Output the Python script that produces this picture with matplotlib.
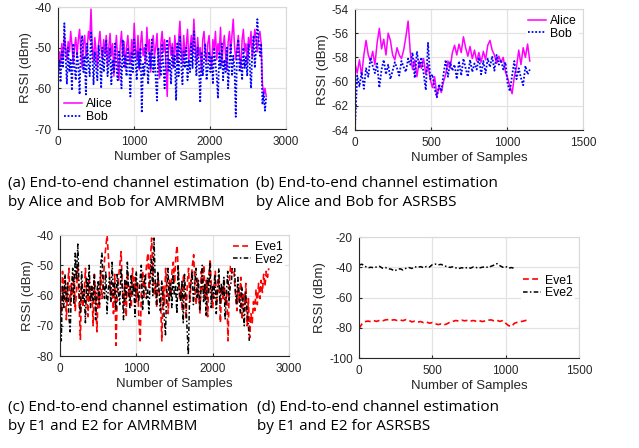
import numpy as np
import matplotlib
matplotlib.use('Agg')
import matplotlib.pyplot as plt

# ---- data (values in dBm, downsampled by eye) ----
alice_a = [-56.5, -51, -54, -49, -52.5, -47, -50, -53, -48.5, -51, -46, -49.5, -54, -50, -47.5,
           -52, -48, -45.5, -51, -55, -49, -47, -52.5, -50, -46, -48, -40.5, -50, -53.5, -47.5,
           -51, -55, -49, -46, -50.5, -53, -48, -51.5, -47, -54.5, -50, -46.5, -52, -49, -57,
           -51, -47, -53, -58, -49.5, -46, -52, -48.5, -55, -50, -47, -51.5, -54, -48, -52,
           -44, -50.5, -53, -47, -55.5, -49, -46, -52, -50, -54, -45, -51, -48, -56, -49.5,
           -47, -52, -50, -46.5, -53.5, -57.5, -49, -46, -51, -48, -54, -62, -50, -47.5, -52,
           -49, -55, -47, -51, -53.5, -48, -43.5, -50, -54, -47, -52, -49.5, -45.5, -53, -50,
           -47, -51.5, -43, -49, -54, -47.5, -52, -50, -56, -48, -46, -51, -53.5, -49, -47,
           -52.5, -55, -48, -50.5, -46, -53, -49, -51, -45, -54, -50, -47, -52, -55.5, -48.5,
           -46, -51, -47, -43, -49.5, -53, -50, -47, -52, -55, -48, -45.5, -51, -49, -54,
           -47.5, -50, -46, -52.5, -49, -45.5, -48, -51, -47, -46, -49, -59, -61, -60, -62]
bob_a = [-57, -53, -58.5, -51, -55, -44, -52, -59, -50, -56, -53, -60.5, -49, -55, -58,
         -51, -54, -61.5, -50, -47, -56, -52, -61.5, -49, -54, -57, -46, -52, -59, -51,
         -55, -58, -49.5, -53, -60, -50, -56, -52, -48, -57, -54, -50, -59, -53, -56,
         -49, -55, -58, -51, -53, -60, -48, -55, -52, -57, -50, -54, -62, -51, -56,
         -48, -53, -58, -51, -55, -50, -66, -54, -57, -49, -53, -59, -51, -55, -48,
         -56, -52, -58, -63, -50, -54, -57, -49, -55, -60, -52, -48, -56, -53, -59,
         -50, -55, -52, -63, -49, -57, -47, -54, -59, -51, -55, -50, -58, -53, -56,
         -49, -55, -46, -52, -57, -50, -54, -63.5, -51, -57, -53, -49, -58, -55, -51,
         -56, -52, -59, -50, -54, -57, -62.5, -51, -55, -49, -58, -53, -56, -50, -60,
         -54, -49, -57, -52, -55, -67, -51, -48, -56, -53, -58, -50, -55, -52, -57,
         -49, -54, -60, -51, -47, -55, -50, -43, -48, -52, -49, -64, -61, -65.5, -62]

alice_b = [-58.5, -59.3, -58.2, -59.5, -57.8, -56.6, -57.8, -58.3, -57.5, -58.6,
           -56.8, -55.6, -57.3, -56.5, -57.8, -56.0, -56.6, -57.8, -58.2, -57.2,
           -57.8, -58.1, -57.4, -56.3, -55.0, -57.6, -59.0, -58.2, -59.6, -58.3,
           -58.9, -58.1, -59.4, -58.6, -59.8, -60.5, -59.6, -61.2, -60.4, -60.9,
           -60.0, -59.4, -58.3, -58.9, -57.6, -57.0, -57.8, -56.9, -57.6, -56.3,
           -57.2, -57.9, -57.1, -58.1, -57.4, -58.3, -57.6, -58.4, -57.5, -58.2,
           -57.0, -56.6, -57.4, -57.8, -58.5, -57.9, -58.4, -58.0, -59.2, -59.7,
           -60.4, -61.0, -59.6, -58.8, -57.4, -58.6, -57.2, -58.0, -56.9, -58.3]
bob_b = [-63.8, -59.5, -60.4, -59.2, -60.6, -58.9, -59.6, -58.0, -58.7, -59.3,
         -58.5, -60.5, -59.0, -58.2, -59.4, -58.6, -59.8, -59.1, -58.4, -58.9,
         -59.5, -58.3, -58.8, -59.2, -58.1, -58.6, -57.6, -59.7, -57.5, -58.9,
         -58.0, -59.3, -60.7, -56.8, -59.8, -59.4, -60.6, -61.3, -60.2, -60.8,
         -59.4, -58.2, -59.6, -58.4, -59.1, -58.6, -59.8, -58.3, -59.5, -58.1,
         -58.9, -59.6, -58.2, -59.2, -58.5, -59.0, -58.0, -59.4, -58.3, -59.3,
         -58.1, -58.8, -57.9, -59.1, -57.8, -58.6, -58.2, -59.0, -58.4, -60.2,
         -60.8, -59.5, -58.3, -59.8, -58.9, -59.7, -60.3, -58.7, -59.4, -59.0]

eve1_c = [-58, -66, -52, -61, -55, -68, -57, -51, -63, -56, -60, -53, -65, -58, -50,
          -62, -74.5, -56, -64, -59, -51, -60, -67, -55, -62, -57, -70, -53, -60, -72,
          -58, -64, -52, -61, -56, -48, -44, -40, -47, -55, -62, -58, -66, -53, -76.5,
          -60, -54, -50, -45.5, -58, -63, -55, -67, -52, -60, -57, -64, -51, -59, -54,
          -62, -56, -68, -75, -57, -52, -61, -55, -50, -46, -58, -48, -41, -52, -60,
          -56, -64, -53, -59, -62, -75, -57, -63, -51, -58, -66, -55, -60, -52, -49,
          -56, -47, -43.5, -54, -61, -58, -65, -53, -59, -68, -56, -51, -62, -55, -50,
          -46.5, -57, -63, -54, -60, -66, -52, -58, -50, -61, -55, -67, -53, -48, -59,
          -64, -56, -52, -62, -58, -54, -69, -57, -61, -55, -63, -59, -75, -56, -50,
          -53, -46, -55, -60, -65, -57, -62, -54, -68, -59, -63, -56, -70, -61, -74,
          -66, -69, -62, -65, -58, -63, -56, -61, -55, -59, -53, -57, -52, -54, -51]
eve2_c = [-60, -75, -57, -64, -53, -62, -56, -67, -72, -58, -51, -63, -46, -55, -43,
          -57, -66, -52, -61, -58, -69, -54, -60, -50, -64, -57, -62, -53, -68, -59,
          -55, -63, -50, -46, -57, -61, -52, -66, -58, -54, -62, -49, -60, -56, -65,
          -53, -59, -63, -51, -57, -68, -55, -61, -49, -58, -64, -53, -60, -56, -67,
          -52, -59, -62, -55, -50, -65, -57, -53, -61, -58, -66, -54, -48, -60, -41,
          -56, -63, -52, -59, -65, -55, -61, -67, -73, -58, -51, -62, -56, -64, -53,
          -60, -57, -66, -50, -59, -62, -55, -69, -53, -61, -71, -79.5, -60, -56, -52,
          -63, -57, -51, -61, -55, -65, -58, -50, -62, -56, -67, -54, -59, -49, -64,
          -57, -61, -53, -66, -58, -51, -63, -56, -60, -54, -68, -59, -52, -62, -57,
          -55, -48, -44, -58, -63, -54, -60, -66, -57, -62, -70, -59, -64, -68, -75]

eve1_d = [-80.5, -77.5, -76.0, -75.6, -75.9, -75.3, -75.8, -75.1, -75.5, -74.8,
          -74.6, -75.0, -74.7, -75.2, -74.9, -75.3, -74.6, -75.1, -76.1, -75.7,
          -76.3, -75.9, -76.6, -76.2, -77.0, -76.6, -77.4, -77.9, -77.5, -78.1,
          -77.4, -76.3, -75.8, -75.2, -75.6, -75.0, -75.4, -75.1, -75.6, -75.2,
          -75.8, -75.3, -75.9, -75.5, -75.0, -74.8, -75.4, -75.0, -75.8, -75.3,
          -77.0, -78.6, -79.2, -77.0, -76.4, -76.0, -75.6, -75.1, -74.7]
eve2_d = [-38.5, -38.0, -39.3, -40.4, -40.0, -40.3, -39.8, -39.4, -40.6, -40.2,
          -41.0, -41.3, -42.4, -41.6, -41.0, -41.8, -40.7, -40.2, -40.8, -39.7,
          -40.1, -39.6, -40.3, -39.5, -39.9, -38.3, -37.9, -38.4, -38.1, -39.0,
          -39.6, -40.1, -39.7, -40.4, -40.9, -40.3, -40.7, -40.1, -40.6, -39.8,
          -40.2, -40.5, -40.0, -39.7, -40.1, -39.4, -38.6, -37.6, -38.9, -40.0,
          -39.5, -40.6, -40.2, -40.8]

# last sample index of each trace
last_alice_a, last_bob_a = 2740, 2740
last_alice_b, last_bob_b = 1150, 1150
last_eve1_c, last_eve2_c = 2735, 2480
last_eve1_d, last_eve2_d = 1160, 1060

captions = ['(a) End-to-end channel estimation\nby Alice and Bob for AMRMBM',
            '(b) End-to-end channel estimation\nby Alice and Bob for ASRSBS',
            '(c) End-to-end channel estimation\nby E1 and E2 for AMRMBM',
            '(d) End-to-end channel estimation\nby E1 and E2 for ASRSBS']

plt.rcParams['font.family'] = ['Liberation Sans', 'DejaVu Sans']
plt.rcParams['axes.unicode_minus'] = False

W, H = 639, 448
fig = plt.figure(figsize=(W / 100, H / 100), dpi=100)

DOT = (0, (1, 1))
DASH = (0, (3.5, 2))
DASHDOT = (0, (3, 1.5, 1, 1.5))


def px_axes(x0, y0, x1, y1):
    return fig.add_axes([x0 / W, 1 - y1 / H, (x1 - x0) / W, (y1 - y0) / H])


def style(ax, xlim, ylim, xt, yt):
    ax.set_xlim(xlim)
    ax.set_ylim(ylim)
    ax.set_xticks(xt)
    ax.set_yticks(yt)
    ax.grid(True, color='#e3e3e3', lw=0.9)
    ax.set_axisbelow(True)
    for s in ['left', 'bottom']:
        ax.spines[s].set_color('#262626')
        ax.spines[s].set_linewidth(0.8)
    for s in ['top', 'right']:
        ax.spines[s].set_color('#d9d9d9')
        ax.spines[s].set_linewidth(0.8)
    ax.tick_params(direction='in', length=2, labelsize=8.5, colors='#262626')
    ax.tick_params(axis='x', pad=5)
    ax.tick_params(axis='y', pad=4.5)
    ax.set_xlabel('Number of Samples', fontsize=9.5, color='#262626', labelpad=2)
    ax.set_ylabel('RSSI (dBm)', fontsize=9.5, color='#262626', labelpad=2)


def leg(ax, **kw):
    lg = ax.legend(fontsize=8.8, handlelength=1.5, handletextpad=0.3,
                   labelspacing=0.05, borderpad=0.2, borderaxespad=0.3,
                   fancybox=False, framealpha=1, **kw)
    lg.get_frame().set_edgecolor('white')
    lg.get_frame().set_linewidth(0)
    return lg


# (a)
ax = px_axes(58, 7, 286, 129)
ax.plot(np.linspace(0, last_alice_a, len(alice_a)), alice_a, color='#ff00ff',
        lw=1.1, label='Alice')
ax.plot(np.linspace(0, last_bob_a, len(bob_a)), bob_a, color='#0000ff',
        ls=DOT, lw=1.3, label='Bob')
style(ax, (0, 3000), (-70, -40), [0, 1000, 2000, 3000], [-70, -60, -50, -40])
leg(ax, loc='lower left')

# (b)
ax = px_axes(355, 9, 583, 130)
ax.plot(np.linspace(0, last_alice_b, len(alice_b)), alice_b, color='#ff00ff',
        lw=1.1, label='Alice')
ax.plot(np.linspace(0, last_bob_b, len(bob_b)), bob_b, color='#0000ff',
        ls=DOT, lw=1.3, label='Bob')
style(ax, (0, 1500), (-64, -54), [0, 500, 1000, 1500],
      [-64, -62, -60, -58, -56, -54])
leg(ax, loc='upper right')

# (c)
ax = px_axes(60, 235, 289, 356)
ax.plot(np.linspace(0, last_eve1_c, len(eve1_c)), eve1_c, color='#ff0000',
        ls=DASH, lw=1.2, label='Eve1')
ax.plot(np.linspace(0, last_eve2_c, len(eve2_c)), eve2_c, color='black',
        ls=DASHDOT, lw=1.1, label='Eve2')
style(ax, (0, 3000), (-80, -40), [0, 1000, 2000, 3000],
      [-80, -70, -60, -50, -40])
leg(ax, loc='upper right')

# (d)
ax = px_axes(359, 237, 579, 358)
ax.plot(np.linspace(0, last_eve1_d, len(eve1_d)), eve1_d, color='#ff0000',
        ls=DASH, lw=1.2, label='Eve1')
ax.plot(np.linspace(0, last_eve2_d, len(eve2_d)), eve2_d, color='black',
        ls=DASHDOT, lw=1.1, label='Eve2')
style(ax, (0, 1500), (-100, -20), [0, 500, 1000, 1500],
      [-100, -80, -60, -40, -20])
leg(ax, loc='upper right', bbox_to_anchor=(1.0, 0.74))

# captions under each panel
cap_pos = [(8, 176), (256, 176), (8, 400), (257, 400)]
for (cx, cy), txt in zip(cap_pos, captions):
    fig.text(cx / W, 1 - cy / H, txt, ha='left', va='top', fontsize=11,
             family=['Open Sans', 'DejaVu Sans'], color='black',
             linespacing=1.4)

fig.savefig('out.png', dpi=100)
